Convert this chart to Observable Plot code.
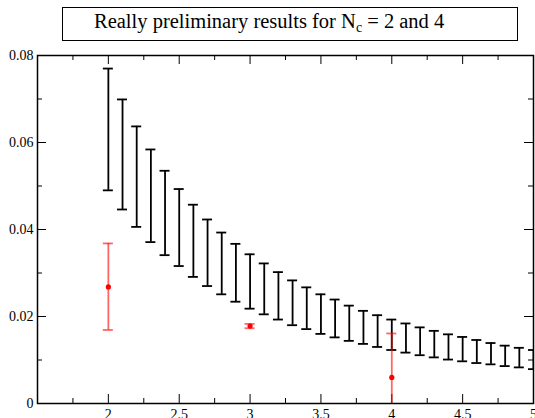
<!DOCTYPE html>
<html><head><meta charset="utf-8">
<script src="https://cdn.jsdelivr.net/npm/d3@7"></script>
<script src="https://cdn.jsdelivr.net/npm/@observablehq/plot@0.6"></script>
<style>
html,body{margin:0;padding:0;background:#fff;}
#wrap{position:relative;width:535px;height:418px;overflow:hidden;}
#chart{position:absolute;left:0;top:0;}
#title{position:absolute;left:62px;top:7px;width:456px;height:34px;box-sizing:border-box;border:1px solid #000;
  font-family:"Liberation Serif","Times New Roman",serif;font-size:20.5px;line-height:27px;padding-left:31px;color:#000;white-space:nowrap;}
#title sub{font-size:0.68em;vertical-align:baseline;position:relative;top:0.32em;}
</style></head>
<body>
<div id="wrap"><div id="chart"></div><div id="title">Really preliminary results for N<sub>c</sub> = 2 and 4</div></div>
<script>
// Black error bars
const barX  = [2.0, 2.1, 2.2, 2.3, 2.4, 2.5, 2.6, 2.7, 2.8, 2.9, 3.0, 3.1, 3.2, 3.3, 3.4, 3.5, 3.6, 3.7, 3.8, 3.9, 4.0, 4.1, 4.2, 4.3, 4.4, 4.5, 4.6, 4.7, 4.8, 4.9, 5.0];
const barHi = [0.0770, 0.0699, 0.0637, 0.0584, 0.0535, 0.0493, 0.0457, 0.0423, 0.0393, 0.0367, 0.0343, 0.0322, 0.0302, 0.0283, 0.0267, 0.0251, 0.0239, 0.0225, 0.0213, 0.0203, 0.0193, 0.0184, 0.0175, 0.0167, 0.0159, 0.0153, 0.0146, 0.0139, 0.0133, 0.0128, 0.0123];
const barLo = [0.0490, 0.0446, 0.0406, 0.0371, 0.0341, 0.0316, 0.0291, 0.0270, 0.0251, 0.0234, 0.0218, 0.0205, 0.0193, 0.0180, 0.0171, 0.0160, 0.0152, 0.0144, 0.0137, 0.0130, 0.0123, 0.0117, 0.0111, 0.0106, 0.0101, 0.0097, 0.0093, 0.0090, 0.0086, 0.0083, 0.0079];

// Red points (N_c results)
const redX  = [2, 3, 4];
const redY  = [0.0268, 0.0178, 0.0060];
const redLo = [0.0169, 0.0173, -0.0040];
const redHi = [0.0368, 0.0183, 0.0161];

// Ticks
const xMajorTicks = [2, 2.5, 3, 3.5, 4, 4.5, 5];
const xMinorTicks = [1.75, 2.25, 2.75, 3.25, 3.75, 4.25, 4.75];
const yMajorTicks = [0, 0.02, 0.04, 0.06, 0.08];
const yMinorTicks = [0.01, 0.03, 0.05, 0.07];

const W = 535, H = 418, mL = 37, mR = 2, mT = 55, mB = 15;
const pw = W - mL - mR, ph = H - mT - mB;
const MAJ = 9, MIN = 5;

const bars = barX.map((x, i) => ({x, lo: barLo[i], hi: barHi[i]}));
const reds = redX.map((x, i) => ({x, y: redY[i], lo: redLo[i], hi: redHi[i]}));

const red = "rgba(255,0,0,0.6)";
const chart = Plot.plot({
  width: W, height: H,
  marginLeft: mL, marginRight: mR, marginTop: mT, marginBottom: mB,
  x: {domain: [1.5, 5], label: null},
  y: {domain: [0, 0.08], label: null},
  style: {fontFamily: "'Liberation Serif','Times New Roman',serif", fontSize: "14px", background: "transparent", color: "#000"},
  marks: [
    Plot.tickX(xMajorTicks, {x: d => d, insetTop: ph - MAJ, stroke: "#000", strokeWidth: 1}),
    Plot.tickX(xMajorTicks, {x: d => d, insetBottom: ph - MAJ, stroke: "#000", strokeWidth: 1}),
    Plot.tickX(xMinorTicks, {x: d => d, insetTop: ph - MIN, stroke: "#000", strokeWidth: 1}),
    Plot.tickX(xMinorTicks, {x: d => d, insetBottom: ph - MIN, stroke: "#000", strokeWidth: 1}),
    Plot.tickY(yMajorTicks, {y: d => d, insetRight: pw - MAJ, stroke: "#000", strokeWidth: 1}),
    Plot.tickY(yMajorTicks, {y: d => d, insetLeft: pw - MAJ, stroke: "#000", strokeWidth: 1}),
    Plot.tickY(yMinorTicks, {y: d => d, insetRight: pw - MIN, stroke: "#000", strokeWidth: 1}),
    Plot.tickY(yMinorTicks, {y: d => d, insetLeft: pw - MIN, stroke: "#000", strokeWidth: 1}),
    Plot.axisX(xMajorTicks, {tickSize: 0, tickPadding: 6, tickFormat: d => String(d), label: null, fontSize: 14}),
    Plot.axisY(yMajorTicks, {tickSize: 0, tickPadding: 4, tickFormat: d => d === 0 ? "0" : String(d), label: null, fontSize: 14}),
    Plot.ruleX(bars, {x: "x", y1: "lo", y2: "hi", stroke: "#000", strokeWidth: 1.8, clip: true}),
    Plot.ruleY(bars, {y: "hi", x1: "x", x2: "x", insetLeft: -5, insetRight: -5, stroke: "#000", strokeWidth: 1.8, clip: true}),
    Plot.ruleY(bars, {y: "lo", x1: "x", x2: "x", insetLeft: -5, insetRight: -5, stroke: "#000", strokeWidth: 1.8, clip: true}),
    Plot.ruleX(reds, {x: "x", y1: "lo", y2: "hi", stroke: red, strokeWidth: 1.8, clip: true}),
    Plot.ruleY(reds, {y: "hi", x1: "x", x2: "x", insetLeft: -5, insetRight: -5, stroke: red, strokeWidth: 1.8, clip: true}),
    Plot.ruleY(reds, {y: "lo", x1: "x", x2: "x", insetLeft: -5, insetRight: -5, stroke: red, strokeWidth: 1.8, clip: true}),
    Plot.dot(reds, {x: "x", y: "y", r: 2.6, fill: "#ff0000", stroke: "none"}),
    Plot.frame({stroke: "#000", strokeWidth: 1.5})
  ]
});
document.getElementById("chart").appendChild(chart);
</script>
</body></html>
